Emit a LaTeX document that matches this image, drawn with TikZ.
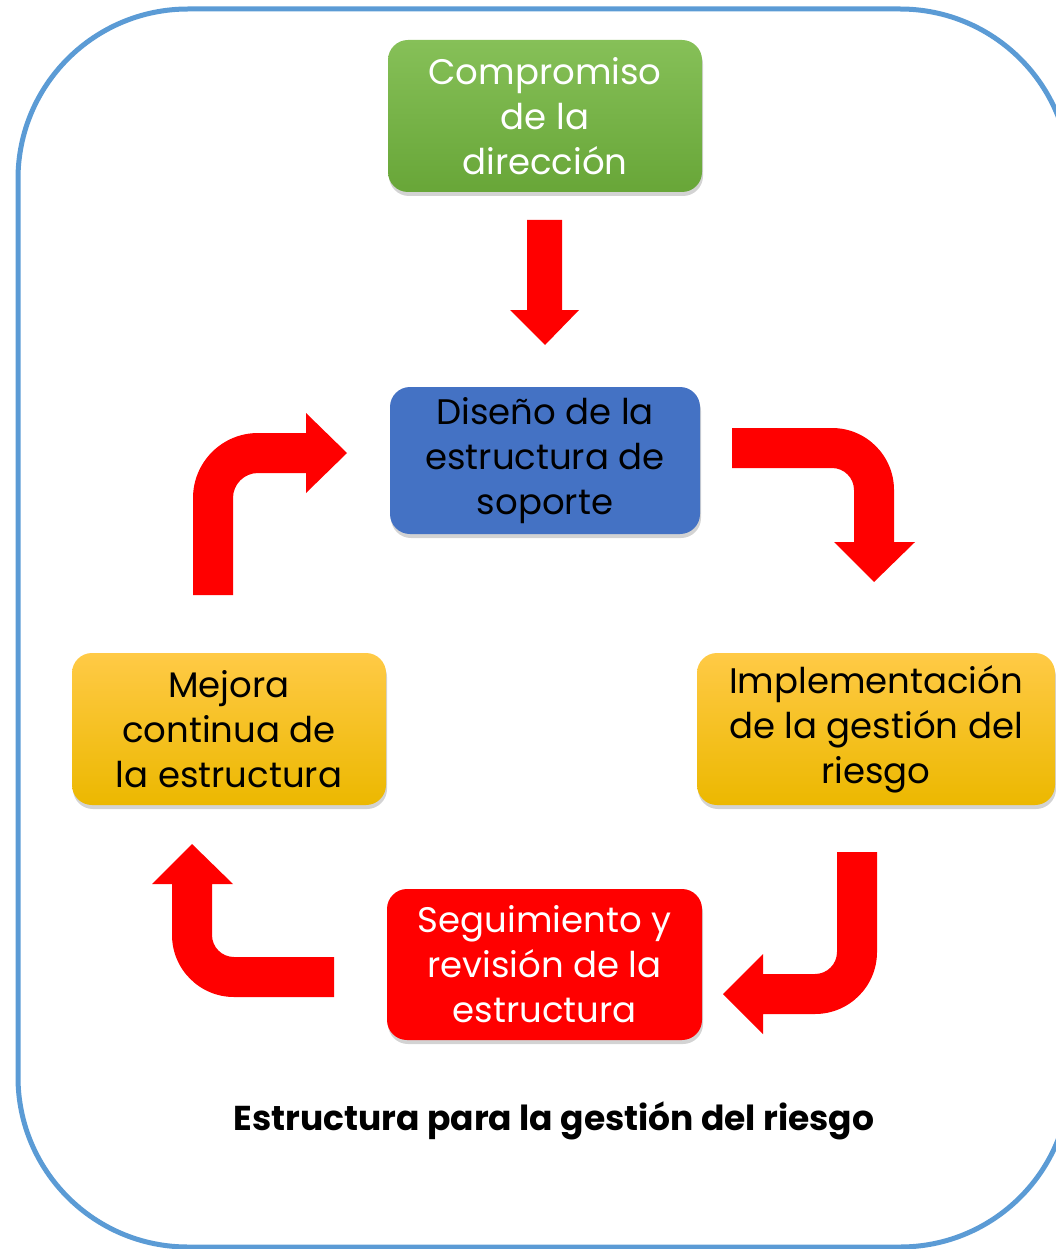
\documentclass[tikz,border=0pt]{standalone}
\usepackage{fontspec}
\setmainfont{Poppins}
\usetikzlibrary{shadows}
\definecolor{frameblue}{RGB}{91,155,213}
\definecolor{gtop}{RGB}{134,192,88}
\definecolor{gbot}{RGB}{104,166,56}
\definecolor{bluebox}{RGB}{68,114,196}
\definecolor{ytop}{RGB}{255,202,70}
\definecolor{ybot}{RGB}{236,184,0}
\definecolor{redarrow}{RGB}{255,0,0}
\tikzset{
  box/.style={rectangle, rounded corners=20pt, align=center, inner sep=0pt,
    minimum height=152pt, font=\fontsize{35.5}{45}\selectfont,
    drop shadow={opacity=0.35, shadow xshift=1pt, shadow yshift=-4pt}},
  barrow/.style={fill=redarrow, draw=none},
  frame/.style={draw=frameblue, line width=5pt, rounded corners=170pt}
}
\begin{document}
\begin{tikzpicture}[x=1pt,y=-1pt]
\useasboundingbox (0,0) rectangle (1056,1249);
\draw[frame] (18,9) rectangle (1070,1247);

\node[box, minimum width=314pt, top color=gtop, bottom color=gbot, text=white] (comp) at (545,116) {Compromiso\\de la\\dirección};
\node[box, minimum width=310pt, minimum height=147pt, fill=bluebox, text=black] (dis) at (545,460.5) {Diseño de la\\estructura de\\soporte};
\node[box, minimum width=314pt, top color=ytop, bottom color=ybot, text=black] (mej) at (229,729) {Mejora\\continua de\\la estructura};
\node[box, minimum width=358pt, top color=ytop, bottom color=ybot, text=black] (imp) at (876,729) {Implementación\\de la gestión del\\riesgo};
\node[box, minimum width=315pt, minimum height=151pt, fill=redarrow, text=white] (seg) at (544.5,964.5) {Seguimiento y\\revisión de la\\estructura};

\node[font=\fontsize{34.5}{40}\selectfont\bfseries] (title) at (554,1121) {Estructura para la gestión del riesgo};

% down arrow
\fill[barrow] (527,220) -- (562,220) -- (562,310) -- (579,310) -- (545,345) -- (510,310) -- (527,310) -- cycle;
% top-left arrow (Mejora -> Diseño)
\fill[barrow] (193,595) -- (193,498) arc[start angle=180, end angle=270, radius=65]
  -- (306,433) -- (306,413) -- (347,453) -- (306,493) -- (306,473) -- (258,473)
  arc[start angle=270, end angle=180, radius=25] -- (233,595) -- cycle;
% top-right arrow (Diseño -> Implementación)
\fill[barrow] (732,428) -- (832,428) arc[start angle=270, end angle=360, radius=62]
  -- (894,542) -- (915,542) -- (874,582) -- (834,542) -- (854,542) -- (854,490)
  arc[start angle=360, end angle=270, radius=22] -- (732,468) -- cycle;
% bottom-right arrow (Implementación -> Seguimiento)
\fill[barrow] (837,852) -- (877,852) -- (877,952) arc[start angle=0, end angle=90, radius=62]
  -- (763,1014) -- (763,1034) -- (723,994) -- (763,954) -- (763,974) -- (815,974)
  arc[start angle=90, end angle=0, radius=22] -- cycle;
% bottom-left arrow (Seguimiento -> Mejora)
\fill[barrow] (334,957) -- (234,957) arc[start angle=90, end angle=180, radius=22]
  -- (212,884) -- (233,884) -- (192,844) -- (152,884) -- (172,884) -- (172,935)
  arc[start angle=180, end angle=90, radius=62] -- (334,997) -- cycle;
\end{tikzpicture}
\end{document}
